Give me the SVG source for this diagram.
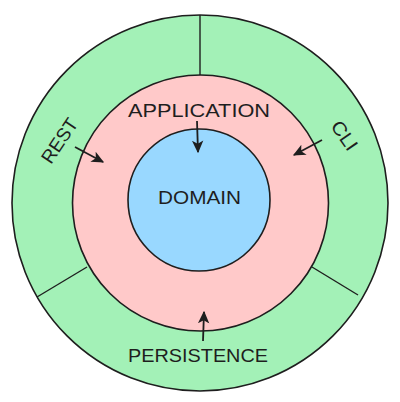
<svg xmlns="http://www.w3.org/2000/svg" width="400" height="402" viewBox="0 0 400 402">
  <style>
    .ring { stroke: #1e1e1e; stroke-width: 1.6; }
    .div { stroke: #1e1e1e; stroke-width: 1.4; fill: none; }
    .lbl { font-family: "Comic Sans MS", "Liberation Sans", sans-serif; font-size: 19px; fill: #1e1e1e; }
    .conn { stroke: #1e1e1e; stroke-width: 1.8; fill: none; marker-end: url(#ah); }
  </style>
  <defs>
    <marker id="ah" viewBox="0 0 10 10" refX="9" refY="5" markerWidth="7" markerHeight="7" orient="auto" markerUnits="strokeWidth">
      <path d="M0,0.5 L10,5 L0,9.5 L2.5,5 Z" fill="#1e1e1e"/>
    </marker>
  </defs>
  <rect width="400" height="402" fill="#ffffff"/>
  <g id="outer-ring">
    <circle class="ring" cx="200" cy="203" r="188" fill="#a3f1b7"/>
    <line class="div" x1="200" y1="15" x2="200" y2="75"/>
    <line class="div" x1="37" y1="297" x2="87" y2="267"/>
    <line class="div" x1="312" y1="267" x2="358" y2="295"/>
  </g>
  <g id="application-ring">
    <circle class="ring" cx="200.5" cy="203" r="128" fill="#ffc9c9"/>
  </g>
  <g id="domain">
    <circle class="ring" cx="199" cy="200" r="71" fill="#99d8ff"/>
    <text class="lbl" x="199.5" y="204" text-anchor="middle" textLength="83" lengthAdjust="spacingAndGlyphs">DOMAIN</text>
  </g>
  <g id="application">
    <text class="lbl" x="199" y="117" text-anchor="middle" textLength="142" lengthAdjust="spacingAndGlyphs">APPLICATION</text>
  </g>
  <g id="rest">
    <text class="lbl" transform="translate(60,141) rotate(-56)" x="0" y="6" text-anchor="middle" textLength="50" lengthAdjust="spacingAndGlyphs">REST</text>
  </g>
  <g id="cli">
    <text class="lbl" transform="translate(344,136) rotate(55)" x="0" y="6" text-anchor="middle" textLength="32" lengthAdjust="spacingAndGlyphs">CLI</text>
  </g>
  <g id="persistence">
    <text class="lbl" x="198" y="362" text-anchor="middle" textLength="140" lengthAdjust="spacingAndGlyphs">PERSISTENCE</text>
  </g>
  <g id="connectors">
    <line class="conn" x1="197" y1="121" x2="198" y2="152"/>
    <line class="conn" x1="75" y1="147" x2="103" y2="162"/>
    <line class="conn" x1="322" y1="140" x2="294" y2="155"/>
    <line class="conn" x1="203" y1="341" x2="204" y2="312"/>
  </g>
</svg>
